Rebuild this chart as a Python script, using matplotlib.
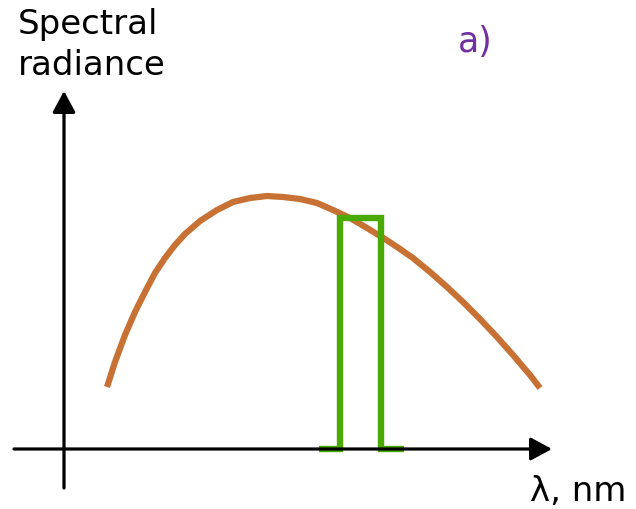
import numpy as np
import matplotlib.pyplot as plt

# Blackbody-like spectral radiance curve (arbitrary units, origin at axis crossing)
curve_x = [43, 51, 61, 71, 81, 91, 101, 111, 121, 136, 153, 169, 186, 203,
           219, 236, 253, 269, 286, 303, 321, 336, 349, 366, 383, 399, 416,
           433, 449, 466, 476]
curve_y = [62, 87, 114, 137, 157, 176, 191, 204, 215, 228, 239, 247, 251, 253,
           252, 250, 246, 239, 231, 221, 210, 200, 191, 177, 162, 147, 130,
           112, 94, 74, 61]

# Rectangular passband of the filter
band_x = [255, 276, 276, 317, 317, 340]
band_y = [0, 0, 231, 231, 0, 0]

ylabel = 'Spectral\nradiance'
xlabel = 'λ, nm'
panel = 'a)'

fig = plt.figure(figsize=(6.36, 5.09), dpi=100)
ax = fig.add_axes([0, 0, 1, 1])
ax.set_xlim(-64, 572)
ax.set_ylim(-60, 449)
ax.axis('off')

arrow = dict(arrowstyle='-|>,head_length=0.65,head_width=0.35', mutation_scale=20,
             lw=2.3, color='black', shrinkA=0, shrinkB=0)
ax.annotate('', xy=(488, 0), xytext=(-50, 0), arrowprops=arrow)
ax.annotate('', xy=(0, 358), xytext=(0, -39), arrowprops=arrow)

ax.plot(curve_x, curve_y, color='#C87135', lw=4.5, solid_capstyle='butt',
        solid_joinstyle='round')
ax.plot(band_x, band_y, color='#4AAA00', lw=4.6, solid_capstyle='butt',
        solid_joinstyle='miter')

ax.text(-46, 441, ylabel, fontsize=24.5, ha='left', va='top', linespacing=1.3)
ax.text(394, 424, panel, fontsize=25, color='#7030A0', ha='left', va='top')
ax.text(466, -26, xlabel, fontsize=24.5, ha='left', va='top')

fig.savefig('out.png', dpi=100)
